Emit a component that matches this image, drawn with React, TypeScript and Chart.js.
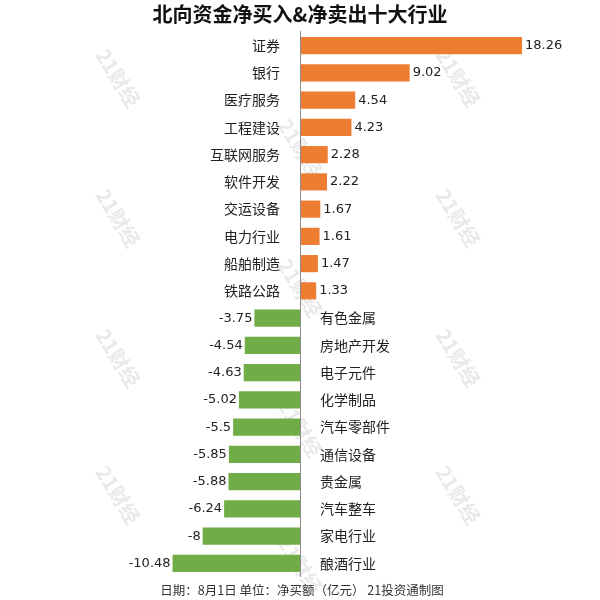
import React, { useEffect, useRef } from "react";
import { Chart, registerables } from "chart.js";

Chart.register(...registerables);

const categories = [
  "证券", "银行", "医疗服务", "工程建设", "互联网服务", "软件开发", "交运设备", "电力行业", "船舶制造", "铁路公路",
  "有色金属", "房地产开发", "电子元件", "化学制品", "汽车零部件", "通信设备", "贵金属", "汽车整车", "家电行业", "酿酒行业",
];
const values = [
  18.26, 9.02, 4.54, 4.23, 2.28, 2.22, 1.67, 1.61, 1.47, 1.33,
  -3.75, -4.54, -4.63, -5.02, -5.5, -5.85, -5.88, -6.24, -8, -10.48,
];
const valueLabels = [
  "18.26", "9.02", "4.54", "4.23", "2.28", "2.22", "1.67", "1.61", "1.47", "1.33",
  "-3.75", "-4.54", "-4.63", "-5.02", "-5.5", "-5.85", "-5.88", "-6.24", "-8", "-10.48",
];
const titleText = "北向资金净买入&净卖出十大行业";
const footerText = "日期：8月1日 单位：净买额（亿元） 21投资通制图";
const watermarkText = "21财经";

const POS_COLOR = "#ED7D31";
const NEG_COLOR = "#70AD47";
const CJK = '"Noto Sans CJK SC", "DejaVu Sans", sans-serif';
const NUM = '"DejaVu Sans", "Noto Sans CJK SC", sans-serif';

const watermarks = [
  [118, 78], [458, 78], [300, 148],
  [118, 218], [458, 218], [300, 288],
  [118, 358], [458, 358], [300, 428],
  [118, 495], [458, 495], [300, 565],
];

const labelPlugin = {
  id: "customLabels",
  beforeDatasetsDraw(chart: any) {
    const ctx = chart.ctx;
    ctx.save();
    ctx.fillStyle = "rgba(200,200,200,0.4)";
    ctx.font = `bold 20px ${CJK}`;
    ctx.textAlign = "center";
    ctx.textBaseline = "middle";
    for (const [x, y] of watermarks) {
      ctx.save();
      ctx.translate(x, y);
      ctx.rotate((58 * Math.PI) / 180);
      ctx.fillText(watermarkText, 0, 0);
      ctx.restore();
    }
    ctx.restore();
  },
  afterDatasetsDraw(chart: any) {
    const ctx = chart.ctx;
    const xScale = chart.scales.x;
    const area = chart.chartArea;
    const zeroX = xScale.getPixelForValue(0);
    const meta = chart.getDatasetMeta(0);
    ctx.save();
    // zero axis line
    ctx.strokeStyle = "#8c8c8c";
    ctx.lineWidth = 1;
    ctx.beginPath();
    ctx.moveTo(Math.round(zeroX) + 0.5, area.top - 1);
    ctx.lineTo(Math.round(zeroX) + 0.5, area.bottom);
    ctx.stroke();

    ctx.textBaseline = "middle";
    meta.data.forEach((bar: any, i: number) => {
      const v = values[i];
      const y = bar.y;
      const endX = xScale.getPixelForValue(v);
      ctx.fillStyle = "#222";
      if (v >= 0) {
        ctx.font = `14px ${CJK}`;
        ctx.textAlign = "right";
        ctx.fillText(categories[i], zeroX - 20, y);
        ctx.font = `13px ${NUM}`;
        ctx.textAlign = "left";
        ctx.fillText(valueLabels[i], endX + 3, y);
      } else {
        ctx.font = `14px ${CJK}`;
        ctx.textAlign = "left";
        ctx.fillText(categories[i], zeroX + 20, y);
        ctx.font = `13px ${NUM}`;
        ctx.textAlign = "right";
        ctx.fillText(valueLabels[i], endX - 2, y);
      }
    });

    // title
    ctx.fillStyle = "#111";
    ctx.font = `bold 20px ${CJK}`;
    ctx.textAlign = "center";
    ctx.fillText(titleText, 300, 14);

    // footer
    ctx.fillStyle = "#333";
    ctx.font = `12.5px ${CJK}`;
    ctx.fillText(footerText, 302, 590);
    ctx.restore();
  },
};

export default function App() {
  const ref = useRef<HTMLCanvasElement>(null);
  useEffect(() => {
    document.body.style.margin = "0";
    const chart = new Chart(ref.current!, {
      type: "bar",
      data: {
        labels: categories,
        datasets: [
          {
            data: values,
            backgroundColor: values.map((v) => (v >= 0 ? POS_COLOR : NEG_COLOR)),
            borderWidth: 0,
            barPercentage: 0.63,
            categoryPercentage: 1,
          },
        ],
      },
      options: {
        indexAxis: "y",
        animation: false,
        responsive: false,
        layout: { padding: { left: 40, right: 40, top: 32, bottom: 23 } },
        plugins: { legend: { display: false }, tooltip: { enabled: false }, title: { display: false } },
        scales: {
          x: { display: false, min: -21.38, max: 21.38 },
          y: { display: false },
        },
      },
      plugins: [labelPlugin],
    });
    return () => chart.destroy();
  }, []);
  return (
    <div style={{ position: "absolute", left: 0, top: 0, width: 600, height: 600, background: "#fff" }}>
      <canvas ref={ref} width={600} height={600} />
    </div>
  );
}
